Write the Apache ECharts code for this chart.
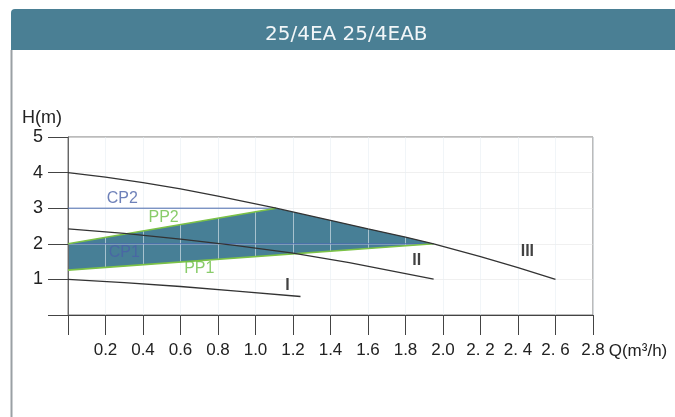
<!DOCTYPE html>
<html>
<head>
<meta charset="utf-8">
<script src="https://cdn.jsdelivr.net/npm/echarts@6/dist/echarts.min.js"></script>
<style>
html,body{margin:0;padding:0;background:#fff;}
#c{width:675px;height:417px;}
</style>
</head>
<body>
<div id="c"></div>
<script>
// ---- data ----
const titleText = '25/4EA 25/4EAB';
const xTickLabels = ['', '0.2', '0.4', '0.6', '0.8', '1.0', '1.2', '1.4', '1.6', '1.8', '2.0', '2. 2', '2. 4', '2. 6', '2.8'];
const yTickLabels = ['', '1', '2', '3', '4', '5'];
// pump curves (Q m3/h, H m)
const curveI = [[0, 1.0], [0.3, 0.91], [0.6, 0.8], [0.9, 0.67], [1.24, 0.52]];
const curveII = [[0, 2.42], [0.3, 2.29], [0.6, 2.13], [0.9, 1.95], [1.2, 1.74], [1.5, 1.47], [1.95, 1.01]];
const curveIII = [[0, 4.0], [0.2, 3.87], [0.4, 3.72], [0.6, 3.54], [0.8, 3.34], [1.11, 3.0], [1.4, 2.66], [1.6, 2.42], [1.8, 2.19], [1.95, 2.0], [2.2, 1.64], [2.4, 1.33], [2.6, 1.0]];
// control lines
const pp1 = [[0, 1.26], [1.95, 2.0]];
const pp2 = [[0, 2.0], [1.11, 3.0]];
const cp1 = [[0, 2.0], [1.95, 2.0]];
const cp2 = [[0, 3.0], [1.11, 3.0]];
// text labels anchored in data coordinates
const lineLabels = [
  ['CP2', 0.29, 3.26, 'cp'],
  ['PP2', 0.51, 2.75, 'pp'],
  ['CP1', 0.30, 1.74, 'cp'],
  ['PP1', 0.70, 1.29, 'pp'],
  ['I', 1.17, 0.84, 'curve'],
  ['II', 1.86, 1.52, 'curve'],
  ['III', 2.45, 1.77, 'curve']
];

const chart = echarts.init(document.getElementById('c'), null, {renderer: 'canvas'});
const FONT = '"Liberation Sans", Arial, sans-serif';
const labelColors = {cp: '#4a62a8', pp: '#6cbf45', curve: '#111'};

const fillPolygon = function (params, api) {
  const pts = [];
  pp1.forEach(p => pts.push(api.coord(p)));
  const endQ = pp1[pp1.length - 1][0];
  const startQ = pp2[pp2.length - 1][0];
  curveIII.filter(p => p[0] <= endQ && p[0] >= startQ).reverse().forEach(p => pts.push(api.coord(p)));
  pp2.slice().reverse().forEach(p => pts.push(api.coord(p)));
  return {type: 'polygon', shape: {points: pts}, style: {fill: '#477f96'}};
};

const lineSeries = (data, color, width, z) => ({
  type: 'line', data: data, symbol: 'none', smooth: false,
  lineStyle: {color: color, width: width}, z: z, silent: true, animation: false
});

chart.setOption({
  animation: false,
  title: {
    text: titleText, left: 260, top: 20,
    textStyle: {color: '#f2f6f8', fontSize: 20, fontWeight: 'normal', fontFamily: '"DejaVu Sans", sans-serif'}
  },
  graphic: [
    {type: 'rect', z: -10, shape: {x: 11, y: 9, width: 680, height: 41, r: [4, 0, 0, 0]}, style: {fill: '#4a7f94'}},
    {type: 'line', z: -10, shape: {x1: 11.5, y1: 50, x2: 11.5, y2: 417}, style: {stroke: '#9aa0a4', lineWidth: 2}}
  ],
  grid: {left: 68, right: 82, top: 137, bottom: 102, show: true, borderColor: '#777', borderWidth: 1, z: 1},
  xAxis: {
    type: 'value', min: 0, max: 2.8, interval: 0.2, z: 1,
    name: 'Q(m³/h)', nameLocation: 'end', nameGap: 14,
    nameTextStyle: {color: '#222', fontSize: 17, fontFamily: FONT, verticalAlign: 'top', align: 'left', padding: [28, 0, 0, 0]},
    axisLine: {show: true, lineStyle: {color: '#444', width: 1}},
    axisTick: {show: true, length: 20, inside: false, lineStyle: {color: '#444'}},
    axisLabel: {
      margin: 27, color: '#222', fontSize: 17, fontFamily: FONT, showMaxLabel: true, showMinLabel: true,
      formatter: v => xTickLabels[Math.round(v / 0.2)]
    },
    splitLine: {show: true, lineStyle: {color: 'rgba(232,238,244,0.6)', width: 1}}
  },
  yAxis: {
    type: 'value', min: 0, max: 5, interval: 1, z: 1,
    name: 'H(m)', nameLocation: 'end', nameGap: 19,
    nameTextStyle: {color: '#222', fontSize: 18, fontFamily: FONT, align: 'right', verticalAlign: 'middle', padding: [0, 6, 0, 0]},
    axisLine: {show: true, lineStyle: {color: '#666', width: 1}},
    axisTick: {show: true, length: 20, inside: false, lineStyle: {color: '#444'}},
    axisLabel: {
      margin: 25, color: '#222', fontSize: 18, fontFamily: FONT,
      formatter: v => yTickLabels[Math.round(v)]
    },
    splitLine: {show: true, lineStyle: {color: 'rgba(225,225,225,0.5)', width: 1}}
  },
  series: [
    {type: 'custom', renderItem: fillPolygon, data: [0], z: 0, silent: true, animation: false, clip: false},
    lineSeries(cp1, '#4a6cb0', 1, 3),
    lineSeries(cp2, '#4a6cb0', 1, 3),
    lineSeries(pp1, '#7cc246', 1.6, 4),
    lineSeries(pp2, '#7cc246', 1.6, 4),
    lineSeries(curveI, '#333', 1.3, 5),
    lineSeries(curveII, '#333', 1.3, 5),
    lineSeries(curveIII, '#333', 1.3, 5),
    {
      type: 'scatter', symbolSize: 0, z: 6, silent: true, animation: false,
      data: lineLabels.map(l => ({
        name: l[0], value: [l[1], l[2]],
        label: l[3] === 'curve'
          ? {color: labelColors[l[3]], fontSize: 16, fontWeight: 'bold'}
          : {color: labelColors[l[3]], fontSize: 16}
      })),
      label: {show: true, position: 'inside', formatter: p => p.name, fontFamily: FONT}
    }
  ]
});
</script>
</body>
</html>
